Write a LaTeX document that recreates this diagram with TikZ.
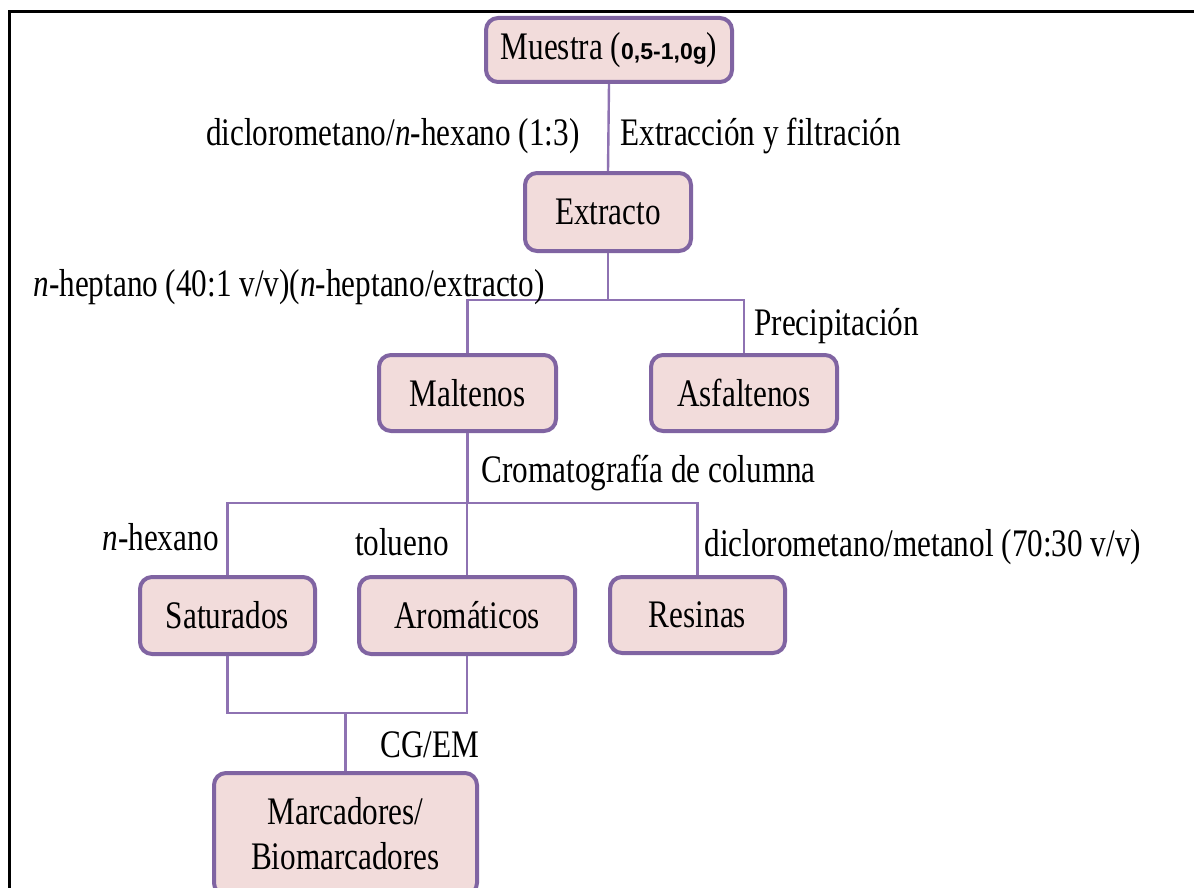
\documentclass[tikz,border=0pt]{standalone}
\usepackage{fontspec}
\setmainfont{Liberation Serif}[FakeStretch=0.8]
\setsansfont{Liberation Sans}
\definecolor{boxfill}{HTML}{F2DCDB}
\definecolor{boxline}{HTML}{8064A2}
\definecolor{connline}{HTML}{8E72B2}
\begin{document}
\begin{tikzpicture}[x=0.5pt,y=-0.5pt,
  font=\fontsize{19.5pt}{22.5pt}\selectfont,
  box/.style={draw=boxline, fill=boxfill, line width=2pt, rounded corners=6pt,
    inner sep=0pt, align=center},
  conn/.style={draw=connline, line width=1.2pt},
  lbl/.style={inner sep=0pt}]
\useasboundingbox (0,0) rectangle (1194,888);
\clip (0,0) rectangle (1194,888);
\fill[white] (0,0) rectangle (1194,888);
\draw[line width=1.5pt] (9,900) -- (9,12) -- (1200,12);

% boxes
\node[box, minimum width=123pt, minimum height=32pt] (m) at (609,50)
  {Muestra (\textsf{\bfseries\fontsize{11.5pt}{13pt}\selectfont 0,5-1,0g})};
\node[box, minimum width=83pt, minimum height=39pt] (e) at (608,212) {Extracto};
\node[box, minimum width=88.5pt, minimum height=38pt] (mal) at (467.5,393) {Maltenos};
\node[box, minimum width=93pt, minimum height=38pt] (asf) at (744,393) {Asfaltenos};
\node[box, minimum width=87.5pt, minimum height=38.5pt] (sat) at (227.5,615.5) {Saturados};
\node[box, minimum width=108pt, minimum height=38.5pt] (aro) at (467,615.5) {Aromáticos};
\node[box, minimum width=87.5pt, minimum height=38pt] (res) at (697.5,615) {Resinas};
\node[box, minimum width=131.5pt, minimum height=61pt] (mar) at (345.5,834)
  {Marcadores/\\Biomarcadores};

% connectors
\draw[conn] (m.south) -- (e.north);
\coordinate (h1) at (608,300);
\draw[conn] (e.south) -- (h1);
\draw[conn] (h1) -| (mal.north);
\draw[conn] (h1) -| (asf.north);
\coordinate (h2) at (467.5,503);
\draw[conn] (mal.south) -- (h2);
\draw[conn] (h2) -| (sat.north);
\draw[conn] (h2) -| (aro.north);
\draw[conn] (h2) -| (res.north);
\coordinate (h3) at (345.5,713);
\draw[conn] (sat.south) |- (h3);
\draw[conn] (aro.south) |- (h3);
\draw[conn] (h3) -- (mar.north);

% labels
\node[lbl, anchor=base east] (l1) at (580,146) {diclorometano/\textit{n}-hexano (1:3)};
\node[lbl, anchor=base west] (l2) at (620,146) {Extracción y filtración};
\node[lbl, anchor=base east] (l3) at (545,296) {\textit{n}-heptano (40:1 v/v)(\textit{n}-heptano/extracto)};
\node[lbl, anchor=base west] (l4) at (754,335) {Precipitación};
\node[lbl, anchor=base west] (l5) at (481,482) {Cromatografía de columna};
\node[lbl, anchor=base east] (l6) at (219,550) {\textit{n}-hexano};
\node[lbl, anchor=base east] (l7) at (449,555) {tolueno};
\node[lbl, anchor=base west] (l8) at (704,556) {diclorometano/metanol (70:30 v/v)};
\node[lbl, anchor=base west] (l9) at (380,757) {CG/EM};
\end{tikzpicture}
\end{document}
